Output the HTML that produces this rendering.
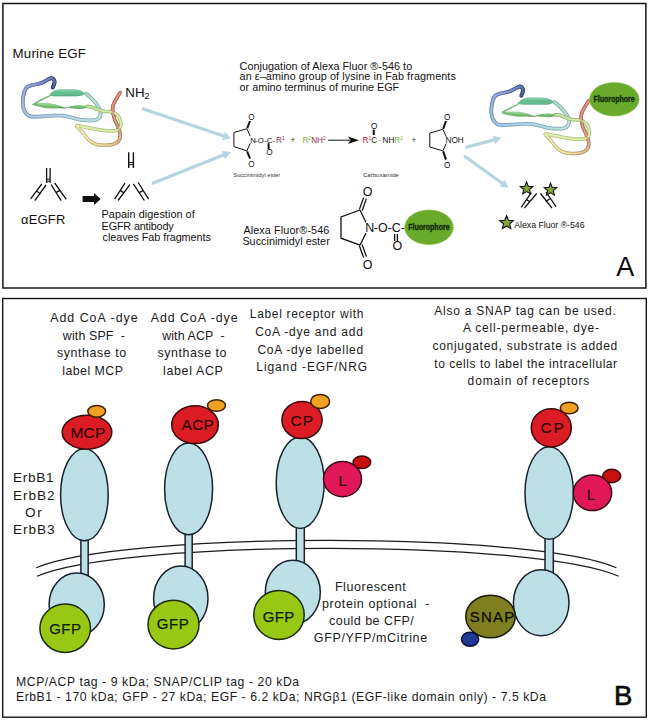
<!DOCTYPE html>
<html><head><meta charset="utf-8"><title>Figure</title>
<style>html,body{margin:0;padding:0;background:#fff;width:648px;height:720px;overflow:hidden}text{font-family:"Liberation Sans",sans-serif}</style>
</head><body>
<svg width="648" height="720" viewBox="0 0 648 720" style="display:block;font-family:'Liberation Sans', sans-serif">
<rect x="2.9" y="3.5" width="643" height="284.5" fill="none" stroke="#151515" stroke-width="1.5"/>
<rect x="2.7" y="298.5" width="643.6" height="418.7" fill="none" stroke="#151515" stroke-width="1.4"/>
<g id="egf" fill="none" stroke-linecap="round" stroke-linejoin="round"><path d="M52.7,87.6 52.9,87.2 53.1,86.5" stroke="#283466" stroke-width="3.7"/>
<path d="M53.1,86.5 53.4,85.8 53.8,85.0" stroke="#2b376b" stroke-width="3.7"/>
<path d="M53.8,85.0 54.1,84.2 54.4,83.4" stroke="#2e3b70" stroke-width="3.7"/>
<path d="M54.4,83.4 54.5,82.6 54.6,82.0" stroke="#323f74" stroke-width="3.7"/>
<path d="M54.6,82.0 54.5,81.4 54.4,80.9" stroke="#344278" stroke-width="3.7"/>
<path d="M54.4,80.9 54.2,80.3 53.9,79.8" stroke="#37447c" stroke-width="3.7"/>
<path d="M53.9,79.8 53.6,79.3 53.2,78.9" stroke="#39477f" stroke-width="3.7"/>
<path d="M53.2,78.9 52.9,78.6 52.5,78.4" stroke="#3b4982" stroke-width="3.7"/>
<path d="M52.5,78.4 52.1,78.3 51.7,78.2" stroke="#3d4b84" stroke-width="3.7"/>
<path d="M51.7,78.2 51.3,78.2 50.9,78.3" stroke="#3f4d87" stroke-width="3.7"/>
<path d="M50.9,78.3 50.4,78.5 49.9,78.7" stroke="#41508a" stroke-width="3.7"/>
<path d="M49.9,78.7 49.3,78.9 48.6,79.2" stroke="#43528d" stroke-width="3.7"/>
<path d="M48.6,79.2 47.8,79.6 47.0,80.0" stroke="#465690" stroke-width="3.7"/>
<path d="M47.0,80.0 46.1,80.5 45.2,81.1" stroke="#495a94" stroke-width="3.7"/>
<path d="M45.2,81.1 44.2,81.6 43.2,82.2" stroke="#4d5e98" stroke-width="3.7"/>
<path d="M43.2,82.2 42.1,82.7 41.1,83.1" stroke="#51639c" stroke-width="3.7"/>
<path d="M41.1,83.1 40.0,83.4 38.8,83.7" stroke="#5568a0" stroke-width="3.7"/>
<path d="M38.8,83.7 37.6,84.0 36.4,84.2" stroke="#596da4" stroke-width="3.7"/>
<path d="M36.4,84.2 35.1,84.5 34.0,84.7" stroke="#5e72a9" stroke-width="3.7"/>
<path d="M34.0,84.7 32.9,84.9 31.9,85.2" stroke="#6276ad" stroke-width="3.7"/>
<path d="M31.9,85.2 31.1,85.5 30.3,85.7" stroke="#657ab0" stroke-width="3.7"/>
<path d="M30.3,85.7 29.6,85.9 28.9,86.2" stroke="#677db2" stroke-width="3.7"/>
<path d="M28.9,86.2 28.4,86.4 27.8,86.8" stroke="#687eb3" stroke-width="3.7"/>
<path d="M27.8,86.8 27.3,87.1 26.8,87.6" stroke="#6980b3" stroke-width="3.7"/>
<path d="M26.8,87.6 26.3,88.1 25.9,88.7" stroke="#6981b4" stroke-width="3.7"/>
<path d="M25.9,88.7 25.5,89.3 25.2,90.0" stroke="#6a82b4" stroke-width="3.7"/>
<path d="M25.2,90.0 24.8,90.8 24.5,91.5" stroke="#6b84b5" stroke-width="3.7"/>
<path d="M24.5,91.5 24.3,92.4 24.0,93.3" stroke="#6d86b6" stroke-width="3.7"/>
<path d="M24.0,93.3 23.8,94.3 23.5,95.4" stroke="#6e88b7" stroke-width="3.7"/>
<path d="M23.5,95.4 23.3,96.6 23.1,97.8" stroke="#6f8ab7" stroke-width="3.7"/>
<path d="M23.1,97.8 23.0,99.0 22.9,100.3" stroke="#718cb8" stroke-width="3.7"/>
<path d="M22.9,100.3 22.8,101.5 22.8,102.6" stroke="#728fb9" stroke-width="3.7"/>
<path d="M22.8,102.6 22.8,103.7 22.9,104.8" stroke="#7491ba" stroke-width="3.7"/>
<path d="M22.9,104.8 23.0,105.8 23.2,106.9" stroke="#7593bb" stroke-width="3.7"/>
<path d="M23.2,106.9 23.4,107.9 23.7,108.9" stroke="#7795bc" stroke-width="3.7"/>
<path d="M23.7,108.9 24.0,109.8 24.4,110.7" stroke="#7897bd" stroke-width="3.7"/>
<path d="M24.4,110.7 24.9,111.5 25.4,112.4" stroke="#7999be" stroke-width="3.7"/>
<path d="M25.4,112.4 26.0,113.2 26.6,113.9" stroke="#7a9bbe" stroke-width="3.7"/>
<path d="M26.6,113.9 27.3,114.6 28.1,115.3" stroke="#7c9dbf" stroke-width="3.7"/>
<path d="M28.1,115.3 29.0,115.8 30.0,116.2" stroke="#7d9ec0" stroke-width="3.7"/>
<path d="M30.0,116.2 31.1,116.5 32.2,116.6" stroke="#7d9fc0" stroke-width="3.7"/>
<path d="M32.2,116.6 33.4,116.7 34.7,116.7" stroke="#7ea0c0" stroke-width="3.7"/>
<path d="M34.7,116.7 36.1,116.6 37.7,116.6" stroke="#7fa2c0" stroke-width="3.7"/>
<path d="M37.7,116.6 39.3,116.5 41.1,116.4" stroke="#80a3c0" stroke-width="3.7"/>
<path d="M41.1,116.4 43.1,116.3 45.4,116.2" stroke="#82a5c0" stroke-width="3.7"/>
<path d="M45.4,116.2 47.9,116.0 50.5,115.9" stroke="#83a7c0" stroke-width="3.7"/>
<path d="M50.5,115.9 53.0,115.7 55.5,115.6" stroke="#85a9c0" stroke-width="3.7"/>
<path d="M55.5,115.6 57.7,115.5 59.7,115.5" stroke="#87abc0" stroke-width="3.7"/>
<path d="M59.7,115.5 61.4,115.6 62.9,115.7" stroke="#88adc0" stroke-width="3.7"/>
<path d="M62.9,115.7 64.2,115.9 65.4,116.1" stroke="#89aebf" stroke-width="3.7"/>
<path d="M65.4,116.1 66.5,116.3 67.6,116.6" stroke="#89aebf" stroke-width="3.7"/>
<path d="M67.6,116.6 68.8,116.8 70.0,117.1" stroke="#89afbe" stroke-width="3.7"/>
<path d="M70.0,117.1 71.2,117.4 72.5,117.7" stroke="#8ab0be" stroke-width="3.7"/>
<path d="M72.5,117.7 73.7,118.0 74.9,118.4" stroke="#8ab0be" stroke-width="3.7"/>
<path d="M74.9,118.4 76.1,118.7 77.4,119.1" stroke="#8bb1bd" stroke-width="3.7"/>
<path d="M77.4,119.1 78.7,119.4 80.0,119.6" stroke="#8bb2bd" stroke-width="3.7"/>
<path d="M80.0,119.6 81.5,119.8 83.0,120.0" stroke="#8cb3bc" stroke-width="3.7"/>
<path d="M83.0,120.0 84.7,120.1 86.3,120.3" stroke="#8db3bc" stroke-width="3.7"/>
<path d="M86.3,120.3 87.9,120.4 89.5,120.4" stroke="#8db4bb" stroke-width="3.7"/>
<path d="M89.5,120.4 90.9,120.4 92.1,120.4" stroke="#8eb5bb" stroke-width="3.7"/>
<path d="M92.1,120.4 93.2,120.3 94.1,120.2" stroke="#8eb6bb" stroke-width="3.7"/>
<path d="M94.1,120.2 95.0,120.1 95.7,119.9" stroke="#8fb6ba" stroke-width="3.7"/>
<path d="M95.7,119.9 96.4,119.6 97.0,119.3" stroke="#8fb7ba" stroke-width="3.7"/>
<path d="M97.0,119.3 97.6,119.0 98.1,118.6" stroke="#8fb7ba" stroke-width="3.7"/>
<path d="M98.1,118.6 98.6,118.1 99.1,117.6" stroke="#90b7ba" stroke-width="3.7"/>
<path d="M99.1,117.6 99.5,117.0 99.8,116.3" stroke="#90b8b9" stroke-width="3.7"/>
<path d="M99.8,116.3 100.1,115.7 100.3,115.0" stroke="#90b8b9" stroke-width="3.7"/>
<path d="M100.3,115.0 100.5,114.3 100.6,113.6" stroke="#90b9b9" stroke-width="3.7"/>
<path d="M100.6,113.6 100.6,112.9 100.6,112.3" stroke="#90b9b8" stroke-width="3.7"/>
<path d="M100.6,112.3 100.5,111.6 100.4,111.0" stroke="#90b9b7" stroke-width="3.7"/>
<path d="M100.4,111.0 100.2,110.3 99.9,109.6" stroke="#8fb8b6" stroke-width="3.7"/>
<path d="M99.9,109.6 99.5,108.8 99.1,108.0" stroke="#8eb8b5" stroke-width="3.7"/>
<path d="M99.1,108.0 98.6,107.1 97.9,106.1" stroke="#8eb8b4" stroke-width="3.7"/>
<path d="M97.9,106.1 97.2,105.1 96.4,104.0" stroke="#8db8b2" stroke-width="3.7"/>
<path d="M96.4,104.0 95.6,103.0 94.8,101.9" stroke="#8cb7b0" stroke-width="3.7"/>
<path d="M94.8,101.9 93.9,100.9 93.1,100.0" stroke="#8bb7ae" stroke-width="3.7"/>
<path d="M93.1,100.0 92.2,99.1 91.2,98.1" stroke="#8ab7ac" stroke-width="3.7"/>
<path d="M91.2,98.1 90.2,97.2 89.2,96.3" stroke="#89b6aa" stroke-width="3.7"/>
<path d="M89.2,96.3 88.2,95.5 87.3,94.7" stroke="#88b6a8" stroke-width="3.7"/>
<path d="M87.3,94.7 86.6,94.1 86.0,93.6" stroke="#87b6a7" stroke-width="3.7"/>
<path d="M52.7,87.6 52.9,87.2 53.1,86.5" stroke="#596495" stroke-width="1.7"/>
<path d="M53.1,86.5 53.4,85.8 53.8,85.0" stroke="#5c6799" stroke-width="1.7"/>
<path d="M53.8,85.0 54.1,84.2 54.4,83.4" stroke="#5f6b9d" stroke-width="1.7"/>
<path d="M54.4,83.4 54.5,82.6 54.6,82.0" stroke="#626fa2" stroke-width="1.7"/>
<path d="M54.6,82.0 54.5,81.4 54.4,80.9" stroke="#6572a5" stroke-width="1.7"/>
<path d="M54.4,80.9 54.2,80.3 53.9,79.8" stroke="#6774a9" stroke-width="1.7"/>
<path d="M53.9,79.8 53.6,79.3 53.2,78.9" stroke="#6977ac" stroke-width="1.7"/>
<path d="M53.2,78.9 52.9,78.6 52.5,78.4" stroke="#6b79af" stroke-width="1.7"/>
<path d="M52.5,78.4 52.1,78.3 51.7,78.2" stroke="#6d7bb1" stroke-width="1.7"/>
<path d="M51.7,78.2 51.3,78.2 50.9,78.3" stroke="#6f7db3" stroke-width="1.7"/>
<path d="M50.9,78.3 50.4,78.5 49.9,78.7" stroke="#717fb6" stroke-width="1.7"/>
<path d="M49.9,78.7 49.3,78.9 48.6,79.2" stroke="#7382ba" stroke-width="1.7"/>
<path d="M48.6,79.2 47.8,79.6 47.0,80.0" stroke="#7685bc" stroke-width="1.7"/>
<path d="M47.0,80.0 46.1,80.5 45.2,81.1" stroke="#7988c0" stroke-width="1.7"/>
<path d="M45.2,81.1 44.2,81.6 43.2,82.2" stroke="#7d8dc3" stroke-width="1.7"/>
<path d="M43.2,82.2 42.1,82.7 41.1,83.1" stroke="#8091c7" stroke-width="1.7"/>
<path d="M41.1,83.1 40.0,83.4 38.8,83.7" stroke="#8496cb" stroke-width="1.7"/>
<path d="M38.8,83.7 37.6,84.0 36.4,84.2" stroke="#889bcf" stroke-width="1.7"/>
<path d="M36.4,84.2 35.1,84.5 34.0,84.7" stroke="#8c9fd4" stroke-width="1.7"/>
<path d="M34.0,84.7 32.9,84.9 31.9,85.2" stroke="#90a4d8" stroke-width="1.7"/>
<path d="M31.9,85.2 31.1,85.5 30.3,85.7" stroke="#93a8db" stroke-width="1.7"/>
<path d="M30.3,85.7 29.6,85.9 28.9,86.2" stroke="#95aadd" stroke-width="1.7"/>
<path d="M28.9,86.2 28.4,86.4 27.8,86.8" stroke="#96abdd" stroke-width="1.7"/>
<path d="M27.8,86.8 27.3,87.1 26.8,87.6" stroke="#97acde" stroke-width="1.7"/>
<path d="M26.8,87.6 26.3,88.1 25.9,88.7" stroke="#97aede" stroke-width="1.7"/>
<path d="M25.9,88.7 25.5,89.3 25.2,90.0" stroke="#98afdf" stroke-width="1.7"/>
<path d="M25.2,90.0 24.8,90.8 24.5,91.5" stroke="#99b1df" stroke-width="1.7"/>
<path d="M24.5,91.5 24.3,92.4 24.0,93.3" stroke="#9ab2e0" stroke-width="1.7"/>
<path d="M24.0,93.3 23.8,94.3 23.5,95.4" stroke="#9cb4e1" stroke-width="1.7"/>
<path d="M23.5,95.4 23.3,96.6 23.1,97.8" stroke="#9db6e2" stroke-width="1.7"/>
<path d="M23.1,97.8 23.0,99.0 22.9,100.3" stroke="#9eb9e3" stroke-width="1.7"/>
<path d="M22.9,100.3 22.8,101.5 22.8,102.6" stroke="#a0bbe4" stroke-width="1.7"/>
<path d="M22.8,102.6 22.8,103.7 22.9,104.8" stroke="#a1bde4" stroke-width="1.7"/>
<path d="M22.9,104.8 23.0,105.8 23.2,106.9" stroke="#a3bfe5" stroke-width="1.7"/>
<path d="M23.2,106.9 23.4,107.9 23.7,108.9" stroke="#a4c1e6" stroke-width="1.7"/>
<path d="M23.7,108.9 24.0,109.8 24.4,110.7" stroke="#a5c3e7" stroke-width="1.7"/>
<path d="M24.4,110.7 24.9,111.5 25.4,112.4" stroke="#a6c5e7" stroke-width="1.7"/>
<path d="M25.4,112.4 26.0,113.2 26.6,113.9" stroke="#a8c6e8" stroke-width="1.7"/>
<path d="M26.6,113.9 27.3,114.6 28.1,115.3" stroke="#a9c8e9" stroke-width="1.7"/>
<path d="M28.1,115.3 29.0,115.8 30.0,116.2" stroke="#aacae9" stroke-width="1.7"/>
<path d="M30.0,116.2 31.1,116.5 32.2,116.6" stroke="#aacbe9" stroke-width="1.7"/>
<path d="M32.2,116.6 33.4,116.7 34.7,116.7" stroke="#abcce9" stroke-width="1.7"/>
<path d="M34.7,116.7 36.1,116.6 37.7,116.6" stroke="#accde9" stroke-width="1.7"/>
<path d="M37.7,116.6 39.3,116.5 41.1,116.4" stroke="#adcee9" stroke-width="1.7"/>
<path d="M41.1,116.4 43.1,116.3 45.4,116.2" stroke="#aed0e9" stroke-width="1.7"/>
<path d="M45.4,116.2 47.9,116.0 50.5,115.9" stroke="#b0d2e9" stroke-width="1.7"/>
<path d="M50.5,115.9 53.0,115.7 55.5,115.6" stroke="#b2d4e9" stroke-width="1.7"/>
<path d="M55.5,115.6 57.7,115.5 59.7,115.5" stroke="#b3d6e9" stroke-width="1.7"/>
<path d="M59.7,115.5 61.4,115.6 62.9,115.7" stroke="#b4d8e9" stroke-width="1.7"/>
<path d="M62.9,115.7 64.2,115.9 65.4,116.1" stroke="#b5d8e9" stroke-width="1.7"/>
<path d="M65.4,116.1 66.5,116.3 67.6,116.6" stroke="#b5d9e9" stroke-width="1.7"/>
<path d="M67.6,116.6 68.8,116.8 70.0,117.1" stroke="#b6dae8" stroke-width="1.7"/>
<path d="M70.0,117.1 71.2,117.4 72.5,117.7" stroke="#b6dae8" stroke-width="1.7"/>
<path d="M72.5,117.7 73.7,118.0 74.9,118.4" stroke="#b7dbe8" stroke-width="1.7"/>
<path d="M74.9,118.4 76.1,118.7 77.4,119.1" stroke="#b7dce7" stroke-width="1.7"/>
<path d="M77.4,119.1 78.7,119.4 80.0,119.6" stroke="#b8dce7" stroke-width="1.7"/>
<path d="M80.0,119.6 81.5,119.8 83.0,120.0" stroke="#b8dde6" stroke-width="1.7"/>
<path d="M83.0,120.0 84.7,120.1 86.3,120.3" stroke="#b9dee6" stroke-width="1.7"/>
<path d="M86.3,120.3 87.9,120.4 89.5,120.4" stroke="#badfe5" stroke-width="1.7"/>
<path d="M89.5,120.4 90.9,120.4 92.1,120.4" stroke="#badfe5" stroke-width="1.7"/>
<path d="M92.1,120.4 93.2,120.3 94.1,120.2" stroke="#bbe0e5" stroke-width="1.7"/>
<path d="M94.1,120.2 95.0,120.1 95.7,119.9" stroke="#bbe1e4" stroke-width="1.7"/>
<path d="M95.7,119.9 96.4,119.6 97.0,119.3" stroke="#bbe1e4" stroke-width="1.7"/>
<path d="M97.0,119.3 97.6,119.0 98.1,118.6" stroke="#bbe1e4" stroke-width="1.7"/>
<path d="M98.1,118.6 98.6,118.1 99.1,117.6" stroke="#bce2e4" stroke-width="1.7"/>
<path d="M99.1,117.6 99.5,117.0 99.8,116.3" stroke="#bce2e4" stroke-width="1.7"/>
<path d="M99.8,116.3 100.1,115.7 100.3,115.0" stroke="#bce2e3" stroke-width="1.7"/>
<path d="M100.3,115.0 100.5,114.3 100.6,113.6" stroke="#bce3e3" stroke-width="1.7"/>
<path d="M100.6,113.6 100.6,112.9 100.6,112.3" stroke="#bce3e2" stroke-width="1.7"/>
<path d="M100.6,112.3 100.5,111.6 100.4,111.0" stroke="#bce3e2" stroke-width="1.7"/>
<path d="M100.4,111.0 100.2,110.3 99.9,109.6" stroke="#bbe3e1" stroke-width="1.7"/>
<path d="M99.9,109.6 99.5,108.8 99.1,108.0" stroke="#bbe2df" stroke-width="1.7"/>
<path d="M99.1,108.0 98.6,107.1 97.9,106.1" stroke="#bae2de" stroke-width="1.7"/>
<path d="M97.9,106.1 97.2,105.1 96.4,104.0" stroke="#b9e2dc" stroke-width="1.7"/>
<path d="M96.4,104.0 95.6,103.0 94.8,101.9" stroke="#b8e1db" stroke-width="1.7"/>
<path d="M94.8,101.9 93.9,100.9 93.1,100.0" stroke="#b7e1d9" stroke-width="1.7"/>
<path d="M93.1,100.0 92.2,99.1 91.2,98.1" stroke="#b6e1d7" stroke-width="1.7"/>
<path d="M91.2,98.1 90.2,97.2 89.2,96.3" stroke="#b5e0d5" stroke-width="1.7"/>
<path d="M89.2,96.3 88.2,95.5 87.3,94.7" stroke="#b4e0d3" stroke-width="1.7"/>
<path d="M87.3,94.7 86.6,94.1 86.0,93.6" stroke="#b3e0d2" stroke-width="1.7"/>
<path d="M86.5,106.4 86.9,106.4 87.4,106.5" stroke="#9bb979" stroke-width="3.5"/>
<path d="M87.4,106.5 88.0,106.5 88.6,106.6" stroke="#9bb979" stroke-width="3.5"/>
<path d="M88.6,106.6 89.4,106.6 90.2,106.8" stroke="#9cba79" stroke-width="3.5"/>
<path d="M90.2,106.8 91.1,107.0 92.0,107.2" stroke="#9dba7a" stroke-width="3.5"/>
<path d="M92.0,107.2 93.0,107.5 94.2,108.0" stroke="#9ebb7a" stroke-width="3.5"/>
<path d="M94.2,108.0 95.5,108.5 96.8,109.1" stroke="#a0bc7b" stroke-width="3.5"/>
<path d="M96.8,109.1 98.1,109.6 99.5,110.2" stroke="#a2bd7b" stroke-width="3.5"/>
<path d="M99.5,110.2 100.8,110.6 102.1,111.0" stroke="#a3be7c" stroke-width="3.5"/>
<path d="M102.1,111.0 103.4,111.2 104.7,111.4" stroke="#a5bf7c" stroke-width="3.5"/>
<path d="M104.7,111.4 106.1,111.5 107.4,111.5" stroke="#a6c07c" stroke-width="3.5"/>
<path d="M107.4,111.5 108.7,111.6 110.0,111.7" stroke="#a8c17d" stroke-width="3.5"/>
<path d="M110.0,111.7 111.1,111.8 112.2,112.1" stroke="#a9c27d" stroke-width="3.5"/>
<path d="M112.2,112.1 113.2,112.4 114.1,112.8" stroke="#abc27e" stroke-width="3.5"/>
<path d="M114.1,112.8 114.9,113.3 115.7,113.7" stroke="#abc37e" stroke-width="3.5"/>
<path d="M115.7,113.7 116.4,114.3 117.0,114.8" stroke="#acc37e" stroke-width="3.5"/>
<path d="M117.0,114.8 117.6,115.4 118.2,116.1" stroke="#acc37e" stroke-width="3.5"/>
<path d="M118.2,116.1 118.7,116.8 119.2,117.7" stroke="#adc47e" stroke-width="3.5"/>
<path d="M119.2,117.7 119.5,118.6 119.9,119.5" stroke="#adc47e" stroke-width="3.5"/>
<path d="M119.9,119.5 120.2,120.5 120.4,121.4" stroke="#aec47f" stroke-width="3.5"/>
<path d="M120.4,121.4 120.6,122.3 120.7,123.1" stroke="#aec47f" stroke-width="3.5"/>
<path d="M120.7,123.1 120.8,123.8 120.8,124.5" stroke="#aec47f" stroke-width="3.5"/>
<path d="M120.8,124.5 120.7,125.2 120.6,125.9" stroke="#afc57f" stroke-width="3.5"/>
<path d="M120.6,125.9 120.5,126.5 120.3,127.1" stroke="#afc57f" stroke-width="3.5"/>
<path d="M120.3,127.1 120.0,127.6 119.7,128.1" stroke="#afc57f" stroke-width="3.5"/>
<path d="M119.7,128.1 119.3,128.5 119.0,129.0" stroke="#b0c57f" stroke-width="3.5"/>
<path d="M119.0,129.0 118.5,129.3 118.0,129.7" stroke="#b0c57f" stroke-width="3.5"/>
<path d="M118.0,129.7 117.5,130.0 116.8,130.2" stroke="#b0c57f" stroke-width="3.5"/>
<path d="M116.8,130.2 116.1,130.4 115.2,130.6" stroke="#b0c57f" stroke-width="3.5"/>
<path d="M115.2,130.6 114.2,130.7 113.1,130.8" stroke="#b1c67f" stroke-width="3.5"/>
<path d="M113.1,130.8 111.8,130.8 110.5,130.8" stroke="#b1c680" stroke-width="3.5"/>
<path d="M110.5,130.8 109.1,130.8 107.7,130.8" stroke="#b2c680" stroke-width="3.5"/>
<path d="M107.7,130.8 106.4,130.7 105.1,130.6" stroke="#b3c680" stroke-width="3.5"/>
<path d="M105.1,130.6 103.8,130.5 102.6,130.3" stroke="#b4c681" stroke-width="3.5"/>
<path d="M102.6,130.3 101.3,130.2 100.1,130.0" stroke="#b5c681" stroke-width="3.5"/>
<path d="M100.1,130.0 98.8,129.8 97.6,129.5" stroke="#b6c682" stroke-width="3.5"/>
<path d="M97.6,129.5 96.3,129.3 95.1,129.1" stroke="#b7c583" stroke-width="3.5"/>
<path d="M95.1,129.1 93.8,128.9 92.6,128.6" stroke="#b7c583" stroke-width="3.5"/>
<path d="M92.6,128.6 91.3,128.4 90.0,128.1" stroke="#b8c584" stroke-width="3.5"/>
<path d="M90.0,128.1 88.7,127.8 87.5,127.6" stroke="#b9c584" stroke-width="3.5"/>
<path d="M87.5,127.6 86.3,127.3 85.1,127.1" stroke="#bac585" stroke-width="3.5"/>
<path d="M85.1,127.1 83.9,126.9 82.7,126.6" stroke="#bbc586" stroke-width="3.5"/>
<path d="M82.7,126.6 81.5,126.4 80.4,126.2" stroke="#bcc586" stroke-width="3.5"/>
<path d="M80.4,126.2 79.3,126.0 78.4,125.9" stroke="#bdc486" stroke-width="3.5"/>
<path d="M78.4,125.9 77.6,125.8 77.1,125.8" stroke="#bec486" stroke-width="3.5"/>
<path d="M77.1,125.8 76.8,125.9 76.7,126.0" stroke="#bec486" stroke-width="3.5"/>
<path d="M76.7,126.0 76.8,126.2 77.0,126.5" stroke="#bec386" stroke-width="3.5"/>
<path d="M77.0,126.5 77.3,126.8 77.7,127.2" stroke="#bfc386" stroke-width="3.5"/>
<path d="M77.7,127.2 78.1,127.6 78.5,128.0" stroke="#bfc386" stroke-width="3.5"/>
<path d="M78.5,128.0 78.9,128.5 79.4,129.0" stroke="#c0c386" stroke-width="3.5"/>
<path d="M79.4,129.0 79.9,129.6 80.5,130.2" stroke="#c1c286" stroke-width="3.5"/>
<path d="M80.5,130.2 81.1,130.9 81.8,131.6" stroke="#c2c286" stroke-width="3.5"/>
<path d="M81.8,131.6 82.4,132.3 83.1,133.1" stroke="#c3c186" stroke-width="3.5"/>
<path d="M83.1,133.1 83.8,133.9 84.5,134.8" stroke="#c4c186" stroke-width="3.5"/>
<path d="M84.5,134.8 85.2,135.8 85.9,136.7" stroke="#c5c086" stroke-width="3.5"/>
<path d="M85.9,136.7 86.7,137.7 87.5,138.6" stroke="#c6c086" stroke-width="3.5"/>
<path d="M87.5,138.6 88.3,139.4 89.1,140.2" stroke="#c6bd84" stroke-width="3.5"/>
<path d="M89.1,140.2 89.9,140.9 90.7,141.5" stroke="#c5bb82" stroke-width="3.5"/>
<path d="M90.7,141.5 91.6,142.1 92.4,142.6" stroke="#c5b980" stroke-width="3.5"/>
<path d="M92.4,142.6 93.3,143.1 94.2,143.5" stroke="#c5b77e" stroke-width="3.5"/>
<path d="M94.2,143.5 95.1,143.9 96.1,144.2" stroke="#c4b57c" stroke-width="3.5"/>
<path d="M96.1,144.2 97.1,144.5 98.2,144.7" stroke="#c4b279" stroke-width="3.5"/>
<path d="M98.2,144.7 99.4,144.9 100.5,145.0" stroke="#c4b077" stroke-width="3.5"/>
<path d="M100.5,145.0 101.7,145.1 102.9,145.2" stroke="#c3ae75" stroke-width="3.5"/>
<path d="M102.9,145.2 104.0,145.2 105.1,145.2" stroke="#c3ab72" stroke-width="3.5"/>
<path d="M105.1,145.2 106.2,145.2 107.2,145.1" stroke="#c1a770" stroke-width="3.5"/>
<path d="M107.2,145.1 108.3,145.1 109.4,145.0" stroke="#c0a46e" stroke-width="3.5"/>
<path d="M109.4,145.0 110.4,144.8 111.4,144.7" stroke="#bea06c" stroke-width="3.5"/>
<path d="M111.4,144.7 112.3,144.5 113.2,144.2" stroke="#bd9d6a" stroke-width="3.5"/>
<path d="M113.2,144.2 114.0,143.9 114.9,143.6" stroke="#bb9a68" stroke-width="3.5"/>
<path d="M114.9,143.6 115.6,143.2 116.4,142.8" stroke="#ba9666" stroke-width="3.5"/>
<path d="M116.4,142.8 117.0,142.3 117.7,141.9" stroke="#b99465" stroke-width="3.5"/>
<path d="M117.7,141.9 118.2,141.3 118.7,140.7" stroke="#b79164" stroke-width="3.5"/>
<path d="M118.7,140.7 119.1,140.0 119.5,139.3" stroke="#b58e63" stroke-width="3.5"/>
<path d="M119.5,139.3 119.8,138.6 120.0,137.7" stroke="#b38b63" stroke-width="3.5"/>
<path d="M120.0,137.7 120.1,136.9 120.2,136.0" stroke="#b28862" stroke-width="3.5"/>
<path d="M120.2,136.0 120.3,135.1 120.2,134.1" stroke="#b08561" stroke-width="3.5"/>
<path d="M120.2,134.1 120.0,133.1 119.8,132.0" stroke="#ad8260" stroke-width="3.5"/>
<path d="M119.8,132.0 119.4,130.8 119.0,129.6" stroke="#ab7e5f" stroke-width="3.5"/>
<path d="M119.0,129.6 118.5,128.4 118.1,127.3" stroke="#a8795e" stroke-width="3.5"/>
<path d="M118.1,127.3 117.6,126.1 117.2,125.1" stroke="#a9775e" stroke-width="3.5"/>
<path d="M117.2,125.1 116.8,124.1 116.4,123.2" stroke="#aa755e" stroke-width="3.5"/>
<path d="M116.4,123.2 116.0,122.4 115.6,121.5" stroke="#ab735e" stroke-width="3.5"/>
<path d="M115.6,121.5 115.2,120.7 114.8,119.9" stroke="#ac725e" stroke-width="3.5"/>
<path d="M114.8,119.9 114.5,119.0 114.2,118.1" stroke="#ac705e" stroke-width="3.5"/>
<path d="M114.2,118.1 113.9,117.1 113.7,116.1" stroke="#ad6e5e" stroke-width="3.5"/>
<path d="M113.7,116.1 113.4,115.0 113.2,114.0" stroke="#ae6d5e" stroke-width="3.5"/>
<path d="M113.2,114.0 113.1,112.9 112.9,111.9" stroke="#af6b5e" stroke-width="3.5"/>
<path d="M112.9,111.9 112.8,111.0 112.7,110.1" stroke="#b06b5d" stroke-width="3.5"/>
<path d="M112.7,110.1 112.6,109.3 112.6,108.7" stroke="#b16a5c" stroke-width="3.5"/>
<path d="M112.6,108.7 112.6,108.1 112.7,107.5" stroke="#b16a5b" stroke-width="3.5"/>
<path d="M112.7,107.5 112.7,106.9 112.9,106.4" stroke="#b26a5b" stroke-width="3.5"/>
<path d="M112.9,106.4 113.0,105.8 113.2,105.1" stroke="#b2695a" stroke-width="3.5"/>
<path d="M113.2,105.1 113.4,104.4 113.8,103.7" stroke="#b36959" stroke-width="3.5"/>
<path d="M113.8,103.7 114.1,102.9 114.5,102.1" stroke="#b46858" stroke-width="3.5"/>
<path d="M114.5,102.1 114.9,101.4 115.3,100.6" stroke="#b46858" stroke-width="3.5"/>
<path d="M115.3,100.6 115.8,99.8 116.2,99.0" stroke="#b56757" stroke-width="3.5"/>
<path d="M116.2,99.0 116.7,98.2 117.2,97.3" stroke="#b66756" stroke-width="3.5"/>
<path d="M117.2,97.3 117.8,96.3 118.4,95.4" stroke="#b76655" stroke-width="3.5"/>
<path d="M118.4,95.4 118.9,94.5 119.5,93.7" stroke="#b86554" stroke-width="3.5"/>
<path d="M119.5,93.7 119.9,93.0 120.2,92.5" stroke="#b86553" stroke-width="3.5"/>
<path d="M86.5,106.4 86.9,106.4 87.4,106.5" stroke="#c6e3a6" stroke-width="1.6"/>
<path d="M87.4,106.5 88.0,106.5 88.6,106.6" stroke="#c7e3a6" stroke-width="1.6"/>
<path d="M88.6,106.6 89.4,106.6 90.2,106.8" stroke="#c8e4a7" stroke-width="1.6"/>
<path d="M90.2,106.8 91.1,107.0 92.0,107.2" stroke="#c9e5a7" stroke-width="1.6"/>
<path d="M92.0,107.2 93.0,107.5 94.2,108.0" stroke="#cae5a7" stroke-width="1.6"/>
<path d="M94.2,108.0 95.5,108.5 96.8,109.1" stroke="#cbe6a8" stroke-width="1.6"/>
<path d="M96.8,109.1 98.1,109.6 99.5,110.2" stroke="#cde7a8" stroke-width="1.6"/>
<path d="M99.5,110.2 100.8,110.6 102.1,111.0" stroke="#cee8a9" stroke-width="1.6"/>
<path d="M102.1,111.0 103.4,111.2 104.7,111.4" stroke="#d0e9a9" stroke-width="1.6"/>
<path d="M104.7,111.4 106.1,111.5 107.4,111.5" stroke="#d1eaaa" stroke-width="1.6"/>
<path d="M107.4,111.5 108.7,111.6 110.0,111.7" stroke="#d3ebaa" stroke-width="1.6"/>
<path d="M110.0,111.7 111.1,111.8 112.2,112.1" stroke="#d4ebaa" stroke-width="1.6"/>
<path d="M112.2,112.1 113.2,112.4 114.1,112.8" stroke="#d5ecab" stroke-width="1.6"/>
<path d="M114.1,112.8 114.9,113.3 115.7,113.7" stroke="#d6edab" stroke-width="1.6"/>
<path d="M115.7,113.7 116.4,114.3 117.0,114.8" stroke="#d7edab" stroke-width="1.6"/>
<path d="M117.0,114.8 117.6,115.4 118.2,116.1" stroke="#d7edab" stroke-width="1.6"/>
<path d="M118.2,116.1 118.7,116.8 119.2,117.7" stroke="#d7edab" stroke-width="1.6"/>
<path d="M119.2,117.7 119.5,118.6 119.9,119.5" stroke="#d8edab" stroke-width="1.6"/>
<path d="M119.9,119.5 120.2,120.5 120.4,121.4" stroke="#d8eeac" stroke-width="1.6"/>
<path d="M120.4,121.4 120.6,122.3 120.7,123.1" stroke="#d9eeac" stroke-width="1.6"/>
<path d="M120.7,123.1 120.8,123.8 120.8,124.5" stroke="#d9eeac" stroke-width="1.6"/>
<path d="M120.8,124.5 120.7,125.2 120.6,125.9" stroke="#d9eeac" stroke-width="1.6"/>
<path d="M120.6,125.9 120.5,126.5 120.3,127.1" stroke="#daeeac" stroke-width="1.6"/>
<path d="M120.3,127.1 120.0,127.6 119.7,128.1" stroke="#daeeac" stroke-width="1.6"/>
<path d="M119.7,128.1 119.3,128.5 119.0,129.0" stroke="#daefac" stroke-width="1.6"/>
<path d="M119.0,129.0 118.5,129.3 118.0,129.7" stroke="#daefac" stroke-width="1.6"/>
<path d="M118.0,129.7 117.5,130.0 116.8,130.2" stroke="#dbefac" stroke-width="1.6"/>
<path d="M116.8,130.2 116.1,130.4 115.2,130.6" stroke="#dbefac" stroke-width="1.6"/>
<path d="M115.2,130.6 114.2,130.7 113.1,130.8" stroke="#dbefac" stroke-width="1.6"/>
<path d="M113.1,130.8 111.8,130.8 110.5,130.8" stroke="#dcf0ac" stroke-width="1.6"/>
<path d="M110.5,130.8 109.1,130.8 107.7,130.8" stroke="#ddf0ad" stroke-width="1.6"/>
<path d="M107.7,130.8 106.4,130.7 105.1,130.6" stroke="#ddf0ad" stroke-width="1.6"/>
<path d="M105.1,130.6 103.8,130.5 102.6,130.3" stroke="#def0ae" stroke-width="1.6"/>
<path d="M102.6,130.3 101.3,130.2 100.1,130.0" stroke="#dfefae" stroke-width="1.6"/>
<path d="M100.1,130.0 98.8,129.8 97.6,129.5" stroke="#e0efaf" stroke-width="1.6"/>
<path d="M97.6,129.5 96.3,129.3 95.1,129.1" stroke="#e1efaf" stroke-width="1.6"/>
<path d="M95.1,129.1 93.8,128.9 92.6,128.6" stroke="#e2efb0" stroke-width="1.6"/>
<path d="M92.6,128.6 91.3,128.4 90.0,128.1" stroke="#e3efb1" stroke-width="1.6"/>
<path d="M90.0,128.1 88.7,127.8 87.5,127.6" stroke="#e3efb1" stroke-width="1.6"/>
<path d="M87.5,127.6 86.3,127.3 85.1,127.1" stroke="#e4efb2" stroke-width="1.6"/>
<path d="M85.1,127.1 83.9,126.9 82.7,126.6" stroke="#e5eeb2" stroke-width="1.6"/>
<path d="M82.7,126.6 81.5,126.4 80.4,126.2" stroke="#e6eeb3" stroke-width="1.6"/>
<path d="M80.4,126.2 79.3,126.0 78.4,125.9" stroke="#e7eeb3" stroke-width="1.6"/>
<path d="M78.4,125.9 77.6,125.8 77.1,125.8" stroke="#e8eeb3" stroke-width="1.6"/>
<path d="M77.1,125.8 76.8,125.9 76.7,126.0" stroke="#e8edb3" stroke-width="1.6"/>
<path d="M76.7,126.0 76.8,126.2 77.0,126.5" stroke="#e8edb3" stroke-width="1.6"/>
<path d="M77.0,126.5 77.3,126.8 77.7,127.2" stroke="#e9edb3" stroke-width="1.6"/>
<path d="M77.7,127.2 78.1,127.6 78.5,128.0" stroke="#e9edb3" stroke-width="1.6"/>
<path d="M78.5,128.0 78.9,128.5 79.4,129.0" stroke="#eaecb3" stroke-width="1.6"/>
<path d="M79.4,129.0 79.9,129.6 80.5,130.2" stroke="#ebecb3" stroke-width="1.6"/>
<path d="M80.5,130.2 81.1,130.9 81.8,131.6" stroke="#ebecb3" stroke-width="1.6"/>
<path d="M81.8,131.6 82.4,132.3 83.1,133.1" stroke="#ecebb3" stroke-width="1.6"/>
<path d="M83.1,133.1 83.8,133.9 84.5,134.8" stroke="#edebb3" stroke-width="1.6"/>
<path d="M84.5,134.8 85.2,135.8 85.9,136.7" stroke="#efeab3" stroke-width="1.6"/>
<path d="M85.9,136.7 86.7,137.7 87.5,138.6" stroke="#f0e9b3" stroke-width="1.6"/>
<path d="M87.5,138.6 88.3,139.4 89.1,140.2" stroke="#efe7b1" stroke-width="1.6"/>
<path d="M89.1,140.2 89.9,140.9 90.7,141.5" stroke="#efe5af" stroke-width="1.6"/>
<path d="M90.7,141.5 91.6,142.1 92.4,142.6" stroke="#efe3ad" stroke-width="1.6"/>
<path d="M92.4,142.6 93.3,143.1 94.2,143.5" stroke="#eee1ab" stroke-width="1.6"/>
<path d="M94.2,143.5 95.1,143.9 96.1,144.2" stroke="#eedfa9" stroke-width="1.6"/>
<path d="M96.1,144.2 97.1,144.5 98.2,144.7" stroke="#eedda7" stroke-width="1.6"/>
<path d="M98.2,144.7 99.4,144.9 100.5,145.0" stroke="#eddba4" stroke-width="1.6"/>
<path d="M100.5,145.0 101.7,145.1 102.9,145.2" stroke="#edd8a2" stroke-width="1.6"/>
<path d="M102.9,145.2 104.0,145.2 105.1,145.2" stroke="#edd6a0" stroke-width="1.6"/>
<path d="M105.1,145.2 106.2,145.2 107.2,145.1" stroke="#ebd29e" stroke-width="1.6"/>
<path d="M107.2,145.1 108.3,145.1 109.4,145.0" stroke="#e9cf9c" stroke-width="1.6"/>
<path d="M109.4,145.0 110.4,144.8 111.4,144.7" stroke="#e8cb9a" stroke-width="1.6"/>
<path d="M111.4,144.7 112.3,144.5 113.2,144.2" stroke="#e7c898" stroke-width="1.6"/>
<path d="M113.2,144.2 114.0,143.9 114.9,143.6" stroke="#e5c596" stroke-width="1.6"/>
<path d="M114.9,143.6 115.6,143.2 116.4,142.8" stroke="#e4c294" stroke-width="1.6"/>
<path d="M116.4,142.8 117.0,142.3 117.7,141.9" stroke="#e3c093" stroke-width="1.6"/>
<path d="M117.7,141.9 118.2,141.3 118.7,140.7" stroke="#e1bd92" stroke-width="1.6"/>
<path d="M118.7,140.7 119.1,140.0 119.5,139.3" stroke="#e0ba92" stroke-width="1.6"/>
<path d="M119.5,139.3 119.8,138.6 120.0,137.7" stroke="#deb891" stroke-width="1.6"/>
<path d="M120.0,137.7 120.1,136.9 120.2,136.0" stroke="#dcb590" stroke-width="1.6"/>
<path d="M120.2,136.0 120.3,135.1 120.2,134.1" stroke="#dab290" stroke-width="1.6"/>
<path d="M120.2,134.1 120.0,133.1 119.8,132.0" stroke="#d8ae8f" stroke-width="1.6"/>
<path d="M119.8,132.0 119.4,130.8 119.0,129.6" stroke="#d6ab8e" stroke-width="1.6"/>
<path d="M119.0,129.6 118.5,128.4 118.1,127.3" stroke="#d3a68d" stroke-width="1.6"/>
<path d="M118.1,127.3 117.6,126.1 117.2,125.1" stroke="#d4a48d" stroke-width="1.6"/>
<path d="M117.2,125.1 116.8,124.1 116.4,123.2" stroke="#d5a38d" stroke-width="1.6"/>
<path d="M116.4,123.2 116.0,122.4 115.6,121.5" stroke="#d6a18d" stroke-width="1.6"/>
<path d="M115.6,121.5 115.2,120.7 114.8,119.9" stroke="#d69f8d" stroke-width="1.6"/>
<path d="M114.8,119.9 114.5,119.0 114.2,118.1" stroke="#d79e8d" stroke-width="1.6"/>
<path d="M114.2,118.1 113.9,117.1 113.7,116.1" stroke="#d89c8d" stroke-width="1.6"/>
<path d="M113.7,116.1 113.4,115.0 113.2,114.0" stroke="#d99a8d" stroke-width="1.6"/>
<path d="M113.2,114.0 113.1,112.9 112.9,111.9" stroke="#da998c" stroke-width="1.6"/>
<path d="M112.9,111.9 112.8,111.0 112.7,110.1" stroke="#db998b" stroke-width="1.6"/>
<path d="M112.7,110.1 112.6,109.3 112.6,108.7" stroke="#db988a" stroke-width="1.6"/>
<path d="M112.6,108.7 112.6,108.1 112.7,107.5" stroke="#dc988a" stroke-width="1.6"/>
<path d="M112.7,107.5 112.7,106.9 112.9,106.4" stroke="#dc9789" stroke-width="1.6"/>
<path d="M112.9,106.4 113.0,105.8 113.2,105.1" stroke="#dd9789" stroke-width="1.6"/>
<path d="M113.2,105.1 113.4,104.4 113.8,103.7" stroke="#dd9788" stroke-width="1.6"/>
<path d="M113.8,103.7 114.1,102.9 114.5,102.1" stroke="#de9687" stroke-width="1.6"/>
<path d="M114.5,102.1 114.9,101.4 115.3,100.6" stroke="#df9686" stroke-width="1.6"/>
<path d="M115.3,100.6 115.8,99.8 116.2,99.0" stroke="#df9586" stroke-width="1.6"/>
<path d="M116.2,99.0 116.7,98.2 117.2,97.3" stroke="#e09585" stroke-width="1.6"/>
<path d="M117.2,97.3 117.8,96.3 118.4,95.4" stroke="#e19484" stroke-width="1.6"/>
<path d="M118.4,95.4 118.9,94.5 119.5,93.7" stroke="#e29483" stroke-width="1.6"/>
<path d="M119.5,93.7 119.9,93.0 120.2,92.5" stroke="#e39382" stroke-width="1.6"/>

<g stroke="none">
<path d="M49,95.6 C44,97.5 38,100.5 33,103.8 L35.5,104.2 C40,101.4 45,98.8 50,96.8 Z" fill="#78b878"/>
<path d="M48.8,95.7 C51,92.2 54.5,89.8 60,89.3 L76,89.5 C80.5,89.8 83.2,91.6 85.2,93.6 C83.2,95.4 80.5,96.2 76,96.2 L55,96.2 C52,96.2 50.2,96 48.8,95.7 Z" fill="#66bc90"/>
<path d="M53,92.2 C55,90.4 57.5,89.6 61,89.5 L76,89.7 C79.5,89.9 81.5,90.8 83,92 C79,91.4 76,91.3 72,91.4 L58,91.6 Z" fill="#8ad0ac" opacity="0.75"/>
<path d="M52,95.6 L78,95.6 C81,95.4 83.5,94.6 85.2,93.6 C83.2,95.4 80.5,96.2 76,96.2 L55,96.2 Z" fill="#3d8a64" opacity="0.6"/>
<path d="M31.5,104.4 C36,103.4 42,103.1 50,103.5 C56,104.1 61,106 66,107.8 C61,108.5 56,108.7 50,108.5 C42,107.8 36,105.9 31.5,104.4 Z" fill="#74b870"/>
<path d="M36,104 C41,103.4 46,103.4 51,103.8 C55,104.3 58,105.2 61,106.3 C56,105.6 51,105.4 46,105.4 C42,105.3 39,104.9 36,104 Z" fill="#a0d898" opacity="0.8"/>
<path d="M58,107.2 C61,107.3 64,107.6 66,107.8 C70,106.2 73,105.6 76,105.4 C71,106.6 68,107.8 66,108.6 C63,108.6 60,108.2 58,107.2 Z" fill="#4a7c44" opacity="0.8"/>
<path d="M66,107.8 C70,106.2 75,105.2 80,105.2 C83,105.3 85.5,106 87.3,106.9 C85.5,108.1 83,109 80,109 C75,109 70,108.5 66,107.8 Z" fill="#6eb46a"/>
<path d="M72,106.4 C75,105.7 78,105.5 81,105.6 C83.5,105.8 85.5,106.3 86.5,106.8 C83,106.5 80,106.5 77,106.6 Z" fill="#98d090" opacity="0.8"/>
</g></g>
<use href="#egf" transform="translate(468.5,8.3)"/>
<text x="125.3" y="96.6" font-size="13.3" fill="#111">NH<tspan font-size="9" dy="2.3">2</tspan></text>
<g stroke="#111" stroke-width="1.3" fill="none" stroke-linecap="butt">
<path d="M46.6,168.1 V183 M50.1,168.1 V183"/>
<path d="M46.6,179.2 H50.1 M46.6,181.2 H50.1" stroke-width="1"/>
<path d="M41.8,184 L30.6,198.9 M46,185 L34.8,200.7 M36.2,190.8 L40.6,194"/>
<path d="M51,184.5 L61.2,200.7 M54.7,183 L66.3,199.4 M55.6,192.6 L60.2,190.4"/>
</g>
<g stroke="#111" stroke-width="1.3" fill="none">
<path d="M128.7,152.2 V167.9 M133.4,152.2 V167.9" stroke-width="1.4"/>
<path d="M128.7,162.6 H133.4 M128.7,164.7 H133.4" stroke-width="1"/>
<path d="M125,183.2 L114.6,199.2 M129.9,184.6 L118,200.5 M120.2,190.4 L124.4,193.2"/>
<path d="M133.3,183.9 L144.4,200.5 M138.2,182.5 L148.6,199.2 M139.3,192.6 L143.5,190.2"/>
</g>
<path d="M82.6,196 H94 V193 L100.7,199 L94,205 V202 H82.6 Z" fill="#111"/>

<line x1="142.0" y1="108.5" x2="224.4" y2="136.3" stroke="#b5d4df" stroke-width="3.2"/><path d="M231.0,138.5 L222.1,139.9 L224.8,132.0 Z" fill="#b5d4df"/>
<line x1="152.0" y1="183.5" x2="224.5" y2="154.6" stroke="#b5d4df" stroke-width="3.2"/><path d="M231.0,152.0 L225.1,158.9 L222.0,151.1 Z" fill="#b5d4df"/>
<line x1="465.5" y1="147.5" x2="494.9" y2="139.6" stroke="#b5d4df" stroke-width="3.2"/><path d="M501.7,137.8 L495.1,143.9 L492.9,135.8 Z" fill="#b5d4df"/>
<line x1="464.0" y1="155.8" x2="502.9" y2="183.7" stroke="#b5d4df" stroke-width="3.2"/><path d="M508.6,187.8 L499.7,186.5 L504.5,179.7 Z" fill="#b5d4df"/>
<g stroke="#111" stroke-width="1" fill="none">
<path d="M246.9,128.7 L233.9,132.5 L233.9,146.6 L246.9,150.9"/>
<path d="M246.9,128.7 L250.2,136.2 M246.9,150.9 L250.2,143.4"/>
<path d="M247.2,128.2 L250,121" stroke-width="2"/>
<path d="M247.2,151.4 L250,158.6" stroke-width="2"/>
<path d="M268.6,143.2 V149" stroke-width="2"/>
<path d="M442.9,129.3 L429.8,133.1 L429.8,147 L442.9,150.9"/>
<path d="M442.9,129.3 L446.2,136.8 M442.9,150.9 L446.2,143.6"/>
<path d="M443.2,128.8 L446,121" stroke-width="2"/>
<path d="M443.2,151.4 L446,159.6" stroke-width="2"/>
<path d="M373.7,129.6 V135" stroke-width="2"/>
<path d="M328.2,140.2 H350"/>
</g>
<path d="M348,136.6 L359,140.2 L348,144.1 L350.5,140.2 Z" fill="#111"/>
<g font-size="8.2" fill="#111">
<text x="250.2" y="142.8" font-size="7.8">N</text>
<text x="254.9" y="142.8" font-size="7.8" letter-spacing="0.2">-O-C-</text>
<text x="248.3" y="120">O</text>
<text x="248.3" y="167">O</text>
<text x="266.2" y="155">O</text>
<text x="276" y="142.8" fill="#8c3048">R<tspan font-size="5" dy="-3">1</tspan></text>
<text x="290.6" y="142.8" fill="#333">+</text>
<text x="302.5" y="142.8" fill="#7ab648">R<tspan font-size="5" dy="-3" fill="#7ab648">2</tspan><tspan dy="3" fill="#8c3050">NH</tspan><tspan font-size="5" dy="-3" fill="#8c3050">2</tspan></text>
<text x="362.5" y="142.8" fill="#c02040">R<tspan font-size="5" dy="-3">1</tspan><tspan dy="3" fill="#111">C</tspan></text>
<text x="371" y="128.5">O</text>
<text x="378" y="142.8" fill="#888">-</text>
<text x="382.5" y="142.8">NH<tspan fill="#7ab648">R</tspan><tspan font-size="5" dy="-3" fill="#7ab648">2</tspan></text>
<text x="411.5" y="143" fill="#333">+</text>
<text x="445.5" y="143.2">NOH</text>
<text x="444" y="120">O</text>
<text x="444" y="167.5">O</text>
</g>
<text x="233.3" y="176.8" font-size="6.2" fill="#333" textLength="47" lengthAdjust="spacingAndGlyphs">Succinimidyl ester</text>
<text x="363" y="176.5" font-size="6.2" fill="#333" textLength="36" lengthAdjust="spacingAndGlyphs">Carboxamide</text>

<g stroke="#111" stroke-width="1.3" fill="none">
<path d="M360,210 L341,217 L341,238.2 L360,245.2"/>
<path d="M360,210 L366,222.5 M360,245.2 L366,233"/>
<path d="M359.4,209.4 L363.6,197.6 M362.2,210.6 L366.4,198.6"/>
<path d="M359.4,245.8 L363.6,257.6 M362.2,244.6 L366.4,256.6"/>
<path d="M394.6,234 V241 M397.4,234 V241"/>
</g>
<g font-size="12.5" fill="#111">
<text x="365.3" y="232.1">N</text>
<text x="373.8" y="232.1">-O-C-</text>
<text x="362.7" y="196">O</text>
<text x="362.7" y="268.5">O</text>
<text x="392.6" y="249.6">O</text>
</g>

<ellipse cx="429.0" cy="227.3" rx="24.3" ry="17.3" fill="#6aaa2a" stroke="#8cc040" stroke-width="0.6"/>
<ellipse cx="614.3" cy="99.3" rx="24.8" ry="16.7" fill="#6aaa2a" stroke="#8cc040" stroke-width="0.6"/>
<g stroke="#111" stroke-width="1.3" fill="none">
<path d="M531.3,192.7 L521.2,207.4 M536.7,193.5 L524.3,208.2 M526.2,199.4 L530.4,202"/>
<path d="M540.5,193.5 L552,208.2 M546,192 L556,206.6 M545.6,201.6 L549.8,198.8"/>
</g>
<polygon points="526.6,182.0 528.3,186.2 532.9,186.6 529.4,189.5 530.5,193.9 526.6,191.6 522.7,193.9 523.8,189.5 520.3,186.6 524.9,186.2" fill="#84a63c" stroke="#111" stroke-width="1.1" stroke-linejoin="miter"/>
<polygon points="550.5,183.2 552.2,187.4 556.8,187.8 553.3,190.7 554.4,195.1 550.5,192.8 546.6,195.1 547.7,190.7 544.2,187.8 548.8,187.4" fill="#84a63c" stroke="#111" stroke-width="1.1" stroke-linejoin="miter"/>
<polygon points="506.6,215.6 508.5,220.2 513.4,220.6 509.7,223.8 510.8,228.6 506.6,226.0 502.4,228.6 503.5,223.8 499.8,220.6 504.7,220.2" fill="#84a63c" stroke="#111" stroke-width="1.1" stroke-linejoin="miter"/>
<path d="M36.2,567.8 C120,531.9 530,530.6 616.4,567.8" fill="none" stroke="#1a1a1a" stroke-width="1.2"/>
<path d="M37,576.3 C120,539.7 530,538.4 618.7,576.3" fill="none" stroke="#1a1a1a" stroke-width="1.2"/>
<rect x="80.9" y="535.0" width="7.3" height="43.0" fill="#bddfe6" stroke="#17222c" stroke-width="1.5"/>
<ellipse cx="76.7" cy="604.5" rx="27.6" ry="31.5" fill="#bddfe6" stroke="#17222c" stroke-width="1.5"/>
<ellipse cx="84.4" cy="494.7" rx="23.8" ry="46.0" fill="#bddfe6" stroke="#17222c" stroke-width="1.5"/>
<ellipse cx="65.2" cy="628.3" rx="25.3" ry="24.2" fill="#98c814" stroke="#1a2a10" stroke-width="1.5"/>
<ellipse cx="87.0" cy="432.2" rx="24.8" ry="17.0" fill="#dc1c24" stroke="#3a0a0a" stroke-width="1.5"/>
<ellipse cx="96.7" cy="411.3" rx="8.9" ry="5.9" fill="#f0a023" stroke="#3a2000" stroke-width="1.5"/>
<rect x="185.1" y="530.0" width="7.1" height="41.0" fill="#bddfe6" stroke="#17222c" stroke-width="1.5"/>
<ellipse cx="180.8" cy="598.5" rx="27.2" ry="32.5" fill="#bddfe6" stroke="#17222c" stroke-width="1.5"/>
<ellipse cx="188.6" cy="488.9" rx="24.0" ry="45.8" fill="#bddfe6" stroke="#17222c" stroke-width="1.5"/>
<ellipse cx="173.5" cy="624.6" rx="25.5" ry="24.3" fill="#98c814" stroke="#1a2a10" stroke-width="1.5"/>
<ellipse cx="195.0" cy="424.7" rx="23.3" ry="18.9" fill="#dc1c24" stroke="#3a0a0a" stroke-width="1.5"/>
<ellipse cx="216.5" cy="405.5" rx="9.0" ry="5.7" fill="#f0a023" stroke="#3a2000" stroke-width="1.5"/>
<rect x="296.3" y="524.0" width="8.0" height="41.0" fill="#bddfe6" stroke="#17222c" stroke-width="1.5"/>
<ellipse cx="292.8" cy="592.3" rx="27.5" ry="32.0" fill="#bddfe6" stroke="#17222c" stroke-width="1.5"/>
<ellipse cx="300.2" cy="482.7" rx="24.0" ry="45.7" fill="#bddfe6" stroke="#17222c" stroke-width="1.5"/>
<ellipse cx="279.0" cy="614.9" rx="25.2" ry="24.5" fill="#98c814" stroke="#1a2a10" stroke-width="1.5"/>
<ellipse cx="302.0" cy="420.0" rx="20.1" ry="18.5" fill="#dc1c24" stroke="#3a0a0a" stroke-width="1.5"/>
<ellipse cx="320.2" cy="401.4" rx="9.4" ry="7.0" fill="#f0a023" stroke="#3a2000" stroke-width="1.5"/>
<ellipse cx="361.9" cy="462.3" rx="8.8" ry="6.3" fill="#c81010" stroke="#3a0a0a" stroke-width="1.5"/>
<ellipse cx="342.5" cy="479.1" rx="19.0" ry="17.6" fill="#e0185a" stroke="#3a0a14" stroke-width="1.5"/>
<rect x="545.0" y="535.0" width="8.3" height="40.0" fill="#bddfe6" stroke="#17222c" stroke-width="1.5"/>
<ellipse cx="541.2" cy="602.8" rx="27.8" ry="33.0" fill="#bddfe6" stroke="#17222c" stroke-width="1.5"/>
<ellipse cx="549.2" cy="493.0" rx="24.2" ry="46.3" fill="#bddfe6" stroke="#17222c" stroke-width="1.5"/>
<ellipse cx="490.5" cy="616.5" rx="24.7" ry="21.3" fill="#7f7f1f" stroke="#1a1a05" stroke-width="1.5"/>
<ellipse cx="470.1" cy="639.2" rx="8.6" ry="7.0" fill="#1e3a96" stroke="#0a0a30" stroke-width="1.5"/>
<ellipse cx="551.3" cy="427.8" rx="20.0" ry="19.1" fill="#dc1c24" stroke="#3a0a0a" stroke-width="1.5"/>
<ellipse cx="569.2" cy="408.0" rx="8.9" ry="5.8" fill="#f0a023" stroke="#3a2000" stroke-width="1.5"/>
<ellipse cx="611.7" cy="476.0" rx="9.0" ry="6.7" fill="#c81010" stroke="#3a0a0a" stroke-width="1.5"/>
<ellipse cx="592.5" cy="492.8" rx="19.2" ry="17.8" fill="#e0185a" stroke="#3a0a14" stroke-width="1.5"/>
<text x="12.60" y="58.0" font-size="13.30" fill="#111" letter-spacing="0.18">Murine EGF</text>
<text x="21.00" y="223.5" font-size="12.90" fill="#111" letter-spacing="0.25">αEGFR</text>
<text x="101.60" y="218.4" font-size="10.80" fill="#111" letter-spacing="0.07">Papain digestion of</text>
<text x="101.60" y="229.7" font-size="10.80" fill="#111" letter-spacing="-0.14">EGFR antibody</text>
<text x="102.60" y="241.0" font-size="10.80" fill="#111" letter-spacing="-0.05">cleaves Fab fragments</text>
<text x="239.60" y="69.8" font-size="10.80" fill="#111" letter-spacing="0.04">Conjugation of Alexa Fluor ®-546 to</text>
<text x="239.60" y="80.4" font-size="10.80" fill="#111" letter-spacing="0.09">an ε–amino group of lysine in Fab fragments</text>
<text x="239.60" y="91.0" font-size="10.80" fill="#111">or amino terminus of murine EGF</text>
<text x="243.40" y="234.3" font-size="10.80" fill="#111" letter-spacing="0.12">Alexa Fluor®-546</text>
<text x="242.40" y="245.1" font-size="10.80" fill="#111" letter-spacing="0.02">Succinimidyl ester</text>
<text x="514.30" y="227.5" font-size="8.80" fill="#111" letter-spacing="-0.05">Alexa Fluor ®-546</text>
<text x="616.30" y="276.3" font-size="27.00" fill="#0a0a0a">A</text>
<text x="408.2" y="229.8" font-size="8.20" font-weight="bold" fill="#0c2600" stroke="#0c2600" stroke-width="0.3" textLength="41.4" lengthAdjust="spacingAndGlyphs">Fluorophore</text>
<text x="593.5" y="101.6" font-size="8.20" font-weight="bold" fill="#0c2600" stroke="#0c2600" stroke-width="0.3" textLength="41.1" lengthAdjust="spacingAndGlyphs">Fluorophore</text>
<text x="50.20" y="322.2" font-size="12.40" fill="#1a1a1a" letter-spacing="1.00">Add CoA -dye</text>
<text x="62.80" y="339.7" font-size="12.40" fill="#1a1a1a" letter-spacing="0.15">with SPF  -</text>
<text x="56.90" y="357.2" font-size="12.40" fill="#1a1a1a" letter-spacing="0.58">synthase to</text>
<text x="62.20" y="375.0" font-size="12.40" fill="#1a1a1a" letter-spacing="0.46">label MCP</text>
<text x="150.70" y="322.2" font-size="12.40" fill="#1a1a1a" letter-spacing="0.95">Add CoA -dye</text>
<text x="162.20" y="339.7" font-size="12.40" fill="#1a1a1a" letter-spacing="0.11">with ACP  -</text>
<text x="157.60" y="357.2" font-size="12.40" fill="#1a1a1a" letter-spacing="0.55">synthase to</text>
<text x="163.00" y="375.0" font-size="12.40" fill="#1a1a1a" letter-spacing="0.68">label ACP</text>
<text x="249.80" y="317.9" font-size="12.00" fill="#1a1a1a" letter-spacing="0.68">Label receptor with</text>
<text x="255.20" y="335.6" font-size="12.00" fill="#1a1a1a" letter-spacing="0.77">CoA -dye and add</text>
<text x="257.40" y="353.6" font-size="12.00" fill="#1a1a1a" letter-spacing="0.73">CoA -dye labelled</text>
<text x="256.30" y="371.3" font-size="12.00" fill="#1a1a1a" letter-spacing="0.91">Ligand -EGF/NRG</text>
<text x="434.30" y="314.7" font-size="12.00" fill="#1a1a1a" letter-spacing="0.75">Also a SNAP tag can be used.</text>
<text x="463.00" y="332.3" font-size="12.00" fill="#1a1a1a" letter-spacing="0.79">A cell-permeable, dye-</text>
<text x="432.40" y="349.9" font-size="12.00" fill="#1a1a1a" letter-spacing="0.74">conjugated, substrate is added</text>
<text x="434.30" y="367.5" font-size="12.00" fill="#1a1a1a" letter-spacing="0.55">to cells to label the intracellular</text>
<text x="467.60" y="385.1" font-size="12.00" fill="#1a1a1a" letter-spacing="0.87">domain of receptors</text>
<text x="13.10" y="482.2" font-size="13.60" fill="#1a1a1a" letter-spacing="0.68">ErbB1</text>
<text x="13.10" y="499.8" font-size="13.60" fill="#1a1a1a" letter-spacing="0.95">ErbB2</text>
<text x="25.10" y="517.2" font-size="13.60" fill="#1a1a1a" letter-spacing="1.60">Or</text>
<text x="13.10" y="534.4" font-size="13.60" fill="#1a1a1a" letter-spacing="0.95">ErbB3</text>
<text x="334.90" y="591.0" font-size="12.50" fill="#1a1a1a" letter-spacing="0.56">Fluorescent</text>
<text x="322.00" y="608.1" font-size="12.50" fill="#1a1a1a" letter-spacing="0.60">protein optional  -</text>
<text x="329.00" y="625.2" font-size="12.50" fill="#1a1a1a" letter-spacing="0.47">could be CFP/</text>
<text x="313.80" y="642.4" font-size="12.50" fill="#1a1a1a" letter-spacing="0.66">GFP/YFP/mCitrine</text>
<text x="16.00" y="685.6" font-size="12.20" fill="#1a1a1a" letter-spacing="0.59">MCP/ACP tag - 9 kDa; SNAP/CLIP tag - 20 kDa</text>
<text x="16.00" y="700.9" font-size="12.20" fill="#1a1a1a" letter-spacing="0.55">ErbB1 - 170 kDa; GFP - 27 kDa; EGF - 6.2 kDa; NRGβ1 (EGF-like domain only) - 7.5 kDa</text>
<text x="614.00" y="704.7" font-size="27.50" fill="#0a0a0a" stroke="#0a0a0a" stroke-width="0.7">B</text>
<text x="70.50" y="438.0" font-size="15.50" fill="#2a0505" letter-spacing="0.20" stroke="#2a0505" stroke-width="0.12">MCP</text>
<text x="181.60" y="429.6" font-size="15.50" fill="#2a0505" letter-spacing="0.20" stroke="#2a0505" stroke-width="0.12">ACP</text>
<text x="290.40" y="425.6" font-size="15.50" fill="#2a0505" letter-spacing="1.10" stroke="#2a0505" stroke-width="0.12">CP</text>
<text x="540.60" y="433.3" font-size="15.50" fill="#2a0505" letter-spacing="1.60" stroke="#2a0505" stroke-width="0.12">CP</text>
<text x="338.60" y="486.1" font-size="15.00" fill="#2a0505" stroke="#2a0505" stroke-width="0.15">L</text>
<text x="586.80" y="499.8" font-size="15.00" fill="#2a0505" stroke="#2a0505" stroke-width="0.15">L</text>
<text x="49.30" y="634.3" font-size="15.00" fill="#0f1f05" letter-spacing="0.40" stroke="#0f1f05" stroke-width="0.25">GFP</text>
<text x="156.80" y="629.4" font-size="15.00" fill="#0f1f05" letter-spacing="0.55" stroke="#0f1f05" stroke-width="0.25">GFP</text>
<text x="262.70" y="622.4" font-size="15.00" fill="#0f1f05" letter-spacing="0.40" stroke="#0f1f05" stroke-width="0.25">GFP</text>
<text x="469.80" y="622.2" font-size="15.00" fill="#0a0a00" letter-spacing="1.20" stroke="#0a0a00" stroke-width="0.25">SNAP</text>
</svg>
</body></html>
